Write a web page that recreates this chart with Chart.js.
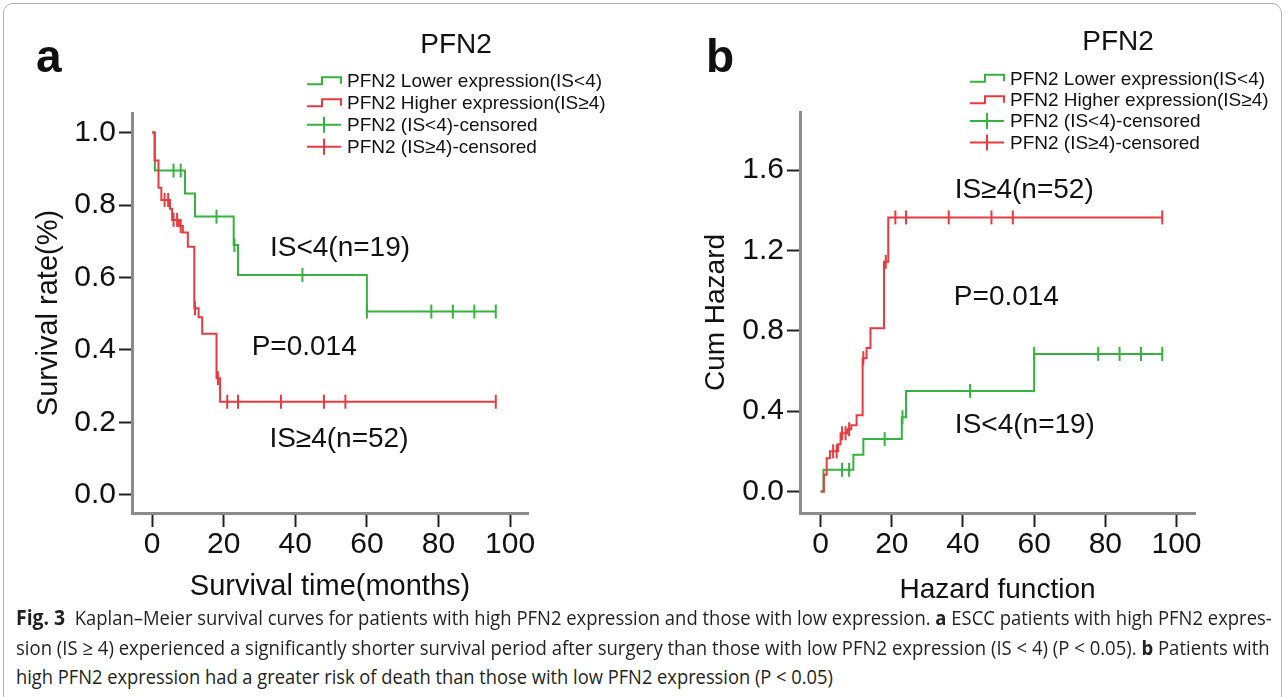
<!DOCTYPE html>
<html>
<head>
<meta charset="utf-8">
<script src="https://cdn.jsdelivr.net/npm/chart.js@4.4.1/dist/chart.umd.min.js"></script>
<style>
  html, body { margin: 0; padding: 0; background: #fff; }
  #fig { position: relative; width: 1285px; height: 697px; overflow: hidden; background: #fff; }
  #frame { position: absolute; left: 3px; top: 3px; width: 1277px; height: 760px; border: 1px solid #b4b4b4; border-radius: 10px; }
  canvas { position: absolute; top: 0; }
  #chart-a { left: 0; }
  #chart-b { left: 640px; }
  .cap { position: absolute; left: 16px; white-space: nowrap; transform-origin: 0 50%;
         font-family: "Liberation Sans Narrow", "Open Sans", Arial, sans-serif; font-size: 20px;
         line-height: 26px; color: #231f20; }
  .cap b.fig { font-size: 21px; }
</style>
</head>
<body>
<div id="fig">
  <div id="frame"></div>
  <canvas id="chart-a" width="640" height="610"></canvas>
  <canvas id="chart-b" width="645" height="610"></canvas>
  <div class="cap" data-w="1256" style="top:604px"><b class="fig">Fig. 3</b>&nbsp; Kaplan–Meier survival curves for patients with high PFN2 expression and those with low expression. <b>a</b> ESCC patients with high PFN2 expres-</div>
  <div class="cap" data-w="1254" style="top:635px">sion (IS ≥ 4) experienced a significantly shorter survival period after surgery than those with low PFN2 expression (IS &lt; 4) (P &lt; 0.05). <b>b</b> Patients with</div>
  <div class="cap" data-w="817" style="top:664px">high PFN2 expression had a greater risk of death than those with low PFN2 expression (P &lt; 0.05)</div>
</div>
<script>
const RED = "#e93a40";
const GREEN = "#36b33e";

const timeTicks = [0, 20, 40, 60, 80, 100];
const survTicks = [0, 0.2, 0.4, 0.6, 0.8, 1.0];
const hazTicks = [0, 0.4, 0.8, 1.2, 1.6];

// panel a: survival (Kaplan-Meier)
const highTimes = [0, 0.7, 1.8, 2.6, 5, 5.6, 7.5, 8.6, 10, 11.8, 13, 14, 18, 19, 96];
const highSurv = [1.0, 0.923, 0.848, 0.814, 0.79, 0.759, 0.742, 0.724, 0.685, 0.515, 0.49, 0.445, 0.322, 0.257, 0.257];
const highCensorTimes = [3.5, 4.5, 6, 7, 8, 12, 18.4, 21, 24, 36, 48, 54, 96];
const highCensorSurv = [0.814, 0.814, 0.759, 0.759, 0.742, 0.515, 0.322, 0.257, 0.257, 0.257, 0.257, 0.257, 0.257];

const lowTimes = [0, 0.8, 9.2, 12, 22.8, 24, 60, 96];
const lowSurv = [1.0, 0.895, 0.832, 0.768, 0.69, 0.607, 0.506, 0.506];
const lowCensorTimes = [6, 8, 18, 23, 42, 60, 78, 84, 90, 96];
const lowCensorSurv = [0.895, 0.895, 0.768, 0.69, 0.607, 0.506, 0.506, 0.506, 0.506, 0.506];

// panel b: cumulative hazard
const highHazTimes = [0, 0.9, 1.7, 2.6, 4.9, 5.6, 7.5, 8.6, 10.1, 11.8, 12.9, 14, 17.8, 19, 96];
const highHaz = [0, 0.083, 0.166, 0.2, 0.236, 0.29, 0.31, 0.33, 0.38, 0.664, 0.715, 0.813, 1.144, 1.365, 1.365];
const highHazCensorTimes = [3.5, 4.5, 6, 7, 8, 12, 18.3, 21, 24, 36, 48, 54, 96];
const highHazCensor = [0.2, 0.2, 0.29, 0.29, 0.31, 0.664, 1.144, 1.365, 1.365, 1.365, 1.365, 1.365, 1.365];

const lowHazTimes = [0, 0.8, 9.2, 12, 22.8, 24, 60, 96];
const lowHaz = [0, 0.108, 0.183, 0.261, 0.37, 0.501, 0.685, 0.685];
const lowHazCensorTimes = [6, 8, 18, 23, 42, 60, 78, 84, 90, 96];
const lowHazCensor = [0.108, 0.108, 0.261, 0.37, 0.501, 0.685, 0.685, 0.685, 0.685, 0.685];

const legendLabels = ["PFN2 Lower expression(IS<4)", "PFN2 Higher expression(IS≥4)", "PFN2 (IS<4)-censored", "PFN2 (IS≥4)-censored"];

const FONT = 'Arial, "Liberation Sans", Helvetica, sans-serif';
Chart.defaults.font.family = FONT;
Chart.defaults.color = "#111";

const pts = (xs, ys) => xs.map((x, i) => ({ x, y: ys[i] }));

function stepSet(xs, ys, color) {
  return { data: pts(xs, ys), showLine: true, stepped: "before", borderColor: color, borderWidth: 2, pointRadius: 0, fill: false };
}
function censorSet(xs, ys, color) {
  return { data: pts(xs, ys), showLine: false, pointStyle: "line", rotation: 90, pointRadius: 7, pointBorderWidth: 2, borderColor: color, backgroundColor: color };
}

function drawLegend(ctx, box) {
  const kinds = [["step", GREEN], ["step", RED], ["censor", GREEN], ["censor", RED]];
  ctx.save();
  ctx.font = `${box.size}px ${FONT}`;
  ctx.textBaseline = "middle";
  ctx.textAlign = "left";
  kinds.forEach(([kind, color], i) => {
    const x = box.x;
    const y = box.y + i * box.dy;
    ctx.strokeStyle = color;
    ctx.lineWidth = 2;
    ctx.beginPath();
    if (kind === "step") {
      ctx.moveTo(x, y + 3.5); ctx.lineTo(x + 15, y + 3.5); ctx.lineTo(x + 15, y - 3.5);
      ctx.lineTo(x + 34, y - 3.5); ctx.lineTo(x + 34, y + 3);
    } else {
      ctx.moveTo(x, y); ctx.lineTo(x + 34, y);
      ctx.moveTo(x + 17, y - 8); ctx.lineTo(x + 17, y + 8);
    }
    ctx.stroke();
    ctx.fillStyle = "#111";
    ctx.fillText(legendLabels[i], x + 40, y + 1);
  });
  ctx.restore();
}

function decorPlugin(cfg) {
  return {
    id: "decor",
    afterDraw(chart) {
      const { ctx, scales } = chart;
      ctx.save();
      ctx.fillStyle = "#111";
      ctx.textAlign = "center";
      ctx.textBaseline = "middle";
      ctx.font = `28px ${FONT}`;
      ctx.fillText("PFN2", cfg.title.x, cfg.title.y);
      ctx.textAlign = "left";
      ctx.textBaseline = "alphabetic";
      ctx.font = `bold 46px ${FONT}`;
      ctx.fillText(cfg.letter.text, cfg.letter.x, cfg.letter.y);
      ctx.textAlign = "center";
      ctx.textBaseline = "middle";
      ctx.font = `28px ${FONT}`;
      cfg.notes.forEach((n) => {
        ctx.fillText(n.text, scales.x.getPixelForValue(n.t), scales.y.getPixelForValue(n.v));
      });
      ctx.restore();
      drawLegend(ctx, cfg.legend);
    },
  };
}

function makeChart(el, o) {
  return new Chart(el, {
    type: "scatter",
    data: { datasets: o.datasets },
    options: {
      responsive: false,
      animation: false,
      layout: { padding: o.padding },
      plugins: { legend: { display: false }, tooltip: { enabled: false } },
      scales: {
        x: {
          type: "linear", min: o.xMin, max: o.xMax,
          afterBuildTicks: (s) => { s.ticks = timeTicks.map((v) => ({ value: v })); },
          afterFit: (s) => { s.height = o.xHeight; },
          grid: { display: true, drawOnChartArea: false, drawTicks: true, tickLength: 14, tickColor: "#222", tickWidth: 2 },
          border: { display: true, color: "#8c8c8c", width: 3 },
          ticks: { color: "#111", font: { size: 30 }, padding: 0, maxRotation: 0, autoSkip: false, callback: (v) => String(v) },
          title: { display: true, text: o.xTitle, color: "#111", font: { size: o.titleSize }, padding: { top: 0, bottom: o.xTitlePad } },
        },
        y: {
          type: "linear", min: o.yMin, max: o.yMax,
          afterBuildTicks: (s) => { s.ticks = o.yTicks.map((v) => ({ value: v })); },
          afterFit: (s) => { s.width = o.yWidth; },
          grid: { display: true, drawOnChartArea: false, drawTicks: true, tickLength: 13, tickColor: "#222", tickWidth: 2 },
          border: { display: true, color: "#8c8c8c", width: 3 },
          ticks: { color: "#111", font: { size: 30 }, padding: 3, autoSkip: false, callback: (v) => Number(v).toFixed(1) },
          title: { display: true, text: o.yTitle, color: "#111", font: { size: o.titleSize }, padding: { top: o.yTitlePad, bottom: 0 } },
        },
      },
    },
    plugins: [decorPlugin(o.decor)],
  });
}

makeChart(document.getElementById("chart-a"), {
  datasets: [
    censorSet(highCensorTimes, highCensorSurv, RED),
    stepSet(highTimes, highSurv, RED),
    censorSet(lowCensorTimes, lowCensorSurv, GREEN),
    stepSet(lowTimes, lowSurv, GREEN),
  ],
  padding: { left: 0, top: 113, right: 112, bottom: 0 },
  xMin: -5.6, xMax: 105.0, yMin: -0.05, yMax: 1.054,
  yTicks: survTicks,
  xHeight: 97, yWidth: 132,
  titleSize: 29,
  xTitle: "Survival time(months)", xTitlePad: 5.6,
  yTitle: "Survival rate(%)", yTitlePad: 32,
  decor: {
    title: { x: 456, y: 45 },
    letter: { text: "a", x: 36, y: 72 },
    legend: { x: 307, y: 80.7, dy: 22, size: 19 },
    notes: [
      { text: "IS<4(n=19)", t: 52.5, v: 0.681 },
      { text: "P=0.014", t: 42.5, v: 0.408 },
      { text: "IS≥4(n=52)", t: 52.2, v: 0.154 },
    ],
  },
});

makeChart(document.getElementById("chart-b"), {
  datasets: [
    censorSet(highHazCensorTimes, highHazCensor, RED),
    stepSet(highHazTimes, highHaz, RED),
    censorSet(lowHazCensorTimes, lowHazCensor, GREEN),
    stepSet(lowHazTimes, lowHaz, GREEN),
  ],
  padding: { left: 0, top: 112, right: 90, bottom: 0 },
  xMin: -5.8, xMax: 105.2, yMin: -0.107, yMax: 1.89,
  yTicks: hazTicks,
  xHeight: 97, yWidth: 160,
  titleSize: 28,
  xTitle: "Hazard function", xTitlePad: 2.6,
  yTitle: "Cum Hazard", yTitlePad: 59,
  decor: {
    title: { x: 478, y: 42 },
    letter: { text: "b", x: 66, y: 72 },
    legend: { x: 330, y: 78.3, dy: 21.4, size: 19 },
    notes: [
      { text: "IS≥4(n=52)", t: 57.2, v: 1.50 },
      { text: "P=0.014", t: 52.2, v: 0.966 },
      { text: "IS<4(n=19)", t: 57.4, v: 0.332 },
    ],
  },
});

function fitCaption() {
  document.querySelectorAll(".cap").forEach((el) => {
    el.style.transform = "none";
    const w = Number(el.dataset.w);
    el.style.transform = `scaleX(${w / el.scrollWidth})`;
  });
}
fitCaption();
document.fonts.ready.then(fitCaption);
</script>
</body>
</html>
